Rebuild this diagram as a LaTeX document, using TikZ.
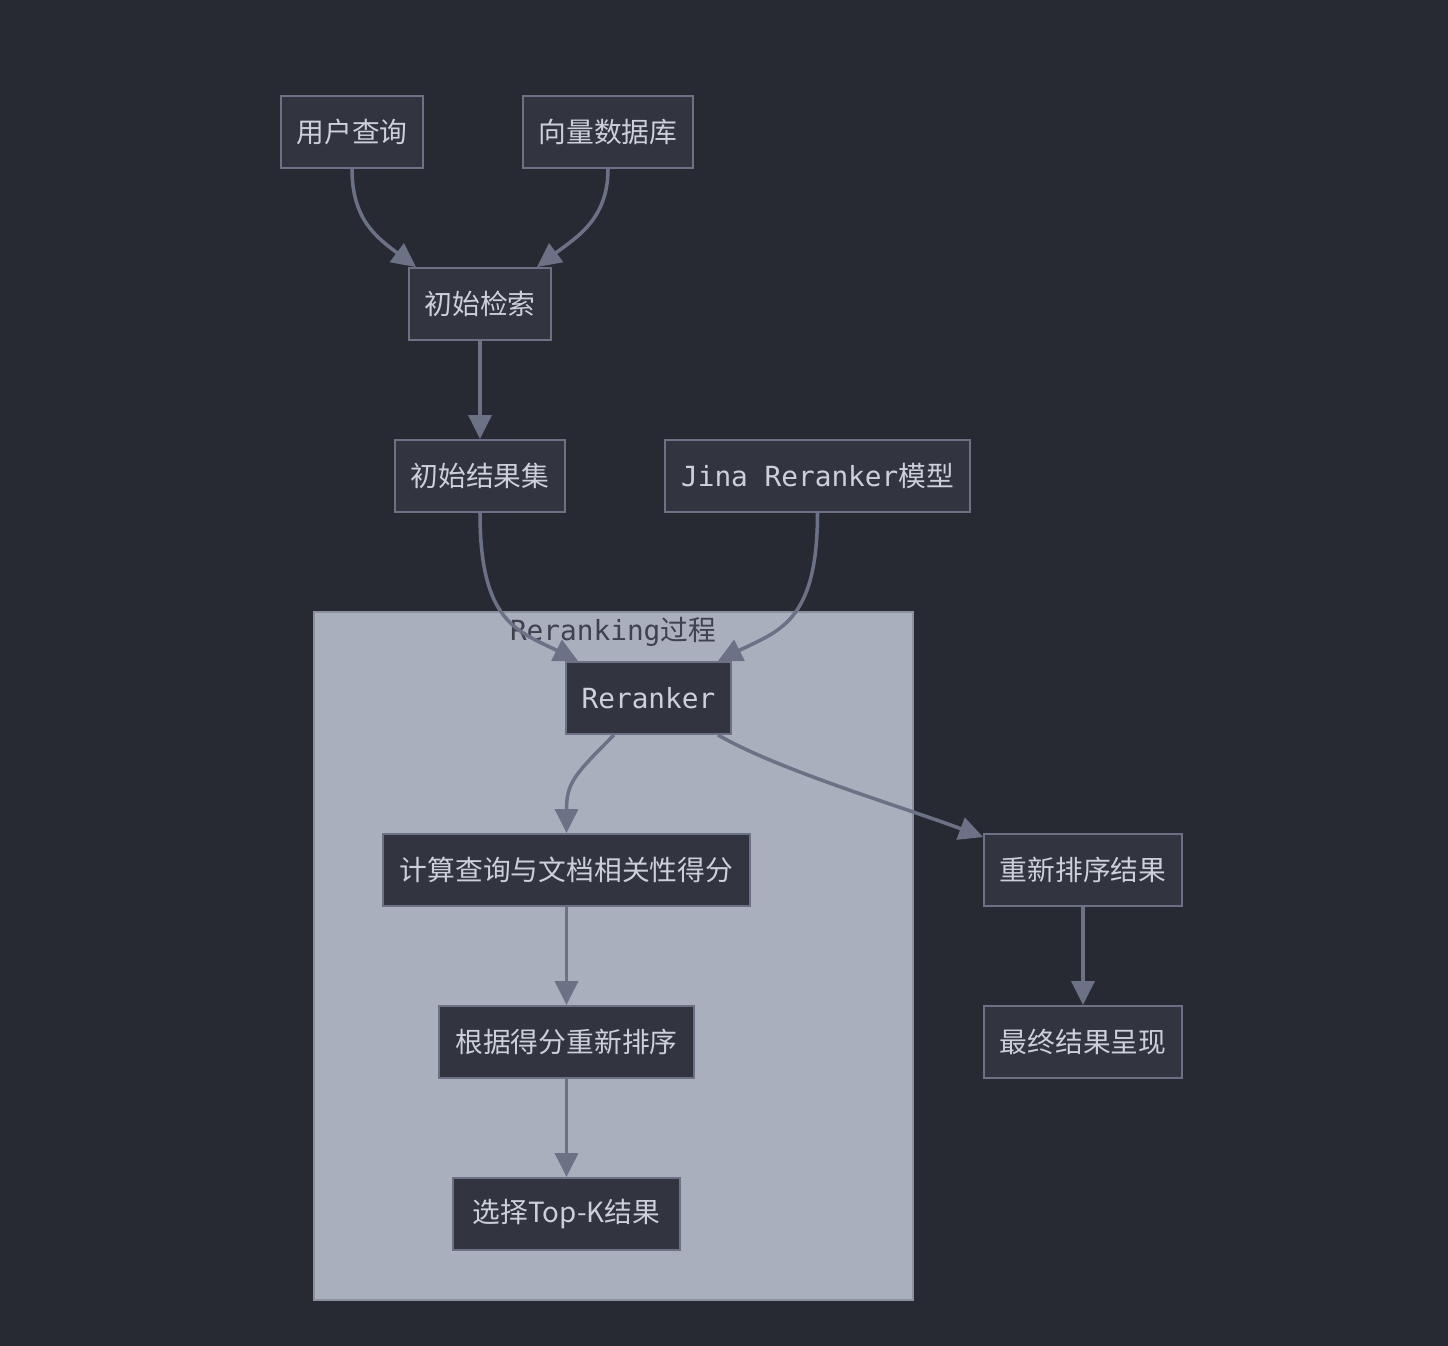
\documentclass[tikz,border=0pt]{standalone}
\usepackage{fontspec}
\setmainfont{Noto Sans CJK SC}
\newfontfamily\mono{DejaVu Sans Mono}
\usepackage{xcolor}
\usetikzlibrary{arrows.meta,positioning,backgrounds}
\definecolor{bgdark}{RGB}{40,42,51}
\definecolor{nodefill}{RGB}{50,52,63}
\definecolor{nodeline}{RGB}{108,113,134}
\definecolor{nodetext}{RGB}{204,208,218}
\definecolor{groupfill}{RGB}{170,175,189}
\definecolor{groupline}{RGB}{140,145,160}
\definecolor{grouptext}{RGB}{62,65,78}
\definecolor{flowline}{RGB}{108,113,134}

\begin{document}
\begin{tikzpicture}[x=0.02cm,y=-0.02cm,
    font=\fontsize{15.8}{18}\selectfont,
    stepbox/.style={rectangle, draw=nodeline, fill=nodefill, line width=1.1pt,
        text=nodetext, minimum height=1.44cm, inner sep=0pt},
    flow/.style={draw=flowline, line width=2pt,
        -{Triangle[length=0.48cm,width=0.46cm]}}]
    % background and frame
    \fill[bgdark] (0,0) rectangle (1448,1346);
    \useasboundingbox (0,0) rectangle (1448,1346);
    % reranking group
    \node[rectangle, draw=groupline, fill=groupfill, line width=1.1pt,
        minimum width=11.98cm, minimum height=13.76cm, inner sep=0pt] (group) at (613.5,956) {};
    \node[text=grouptext] (grouplabel) at (613,632) {{\mono Reranking}过程};
    % nodes
    \node[stepbox, minimum width=2.84cm] (query) at (352,132) {用户查询};
    \node[stepbox, minimum width=3.40cm] (vecdb) at (608,132) {向量数据库};
    \node[stepbox, minimum width=2.84cm] (retrieve) at (480,304) {初始检索};
    \node[stepbox, minimum width=3.40cm] (initres) at (480,476) {初始结果集};
    \node[stepbox, minimum width=6.10cm] (jina) at (817.5,476) {{\mono Jina Reranker}模型};
    \node[stepbox, minimum width=3.30cm] (reranker) at (648.5,698) {\mono Reranker};
    \node[stepbox, minimum width=7.34cm] (score) at (566.5,870) {计算查询与文档相关性得分};
    \node[stepbox, minimum width=5.10cm] (resort) at (566.5,1042) {根据得分重新排序};
    \node[stepbox, minimum width=4.54cm] (topk) at (566.5,1214) {选择Top-K结果};
    \node[stepbox, minimum width=3.96cm] (reordered) at (1083,870) {重新排序结果};
    \node[stepbox, minimum width=3.96cm] (final) at (1083,1042) {最终结果呈现};
    % connectors
    \draw[flow] (query.south) .. controls ++(0,50) and ++(-40,-30) .. ([xshift=-1.28cm]retrieve.north);
    \draw[flow] (vecdb.south) .. controls ++(0,50) and ++(40,-30) .. ([xshift=1.14cm]retrieve.north);
    \draw[flow] (retrieve) -- (initres);
    \draw[flow] (initres.south) .. controls ++(0,110) and ++(-60,-30) .. ([xshift=-1.41cm]reranker.north);
    \draw[flow] (jina.south) .. controls ++(0,110) and ++(60,-30) .. ([xshift=1.39cm]reranker.north);
    \draw[flow] ([xshift=-0.69cm]reranker.south) .. controls ++(-40,40) and ++(0,-50) .. (score.north);
    \draw[flow] ([xshift=1.39cm]reranker.south) .. controls ++(60,35) and ++(-80,-30) .. ([yshift=-0.08cm]reordered.north west);
    \draw[flow] (score) -- (resort);
    \draw[flow] (resort) -- (topk);
    \draw[flow] (reordered) -- (final);
\end{tikzpicture}
\end{document}
